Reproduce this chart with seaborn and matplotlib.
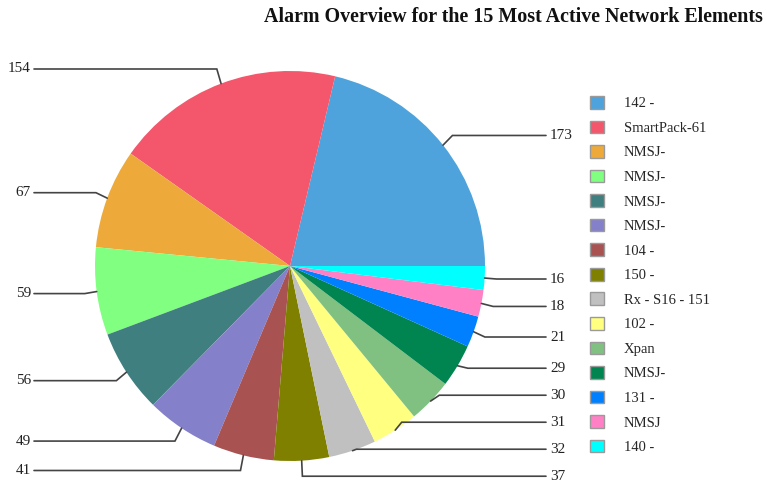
import numpy as np
import matplotlib
matplotlib.use("Agg")
import matplotlib.pyplot as plt
from matplotlib.patches import Rectangle
import seaborn as sns

# ---- data ----
labels = ["142 - ", "SmartPack-61", "NMSJ-", "NMSJ-", "NMSJ-", "NMSJ-", "104 - ",
          "150 - ", "Rx - S16 - 151", "102 - ", "Xpan", "NMSJ-", "131 - ", "NMSJ", "140 - "]
values = [173, 154, 67, 59, 56, 49, 41, 37, 32, 31, 30, 29, 21, 18, 16]
colors = ["#4FA3DC", "#F4566B", "#EDAA3A", "#80FF80", "#3F7F7F", "#8480C9", "#A85252",
          "#808000", "#C0C0C0", "#FFFF80", "#80C080", "#008450", "#0080FF", "#FF80C4", "#00FFFF"]
title = "Alarm Overview for the 15 Most Active Network Elements"

sns.set_theme(style="white")
plt.rcParams["font.family"] = ["Liberation Serif", "DejaVu Serif"]
palette = sns.color_palette(colors)

W, H = 767, 493
fig = plt.figure(figsize=(W / 100, H / 100), dpi=100)
ax = fig.add_axes([0, 0, 1, 1])

CX, CY, R = 290, 266, 195  # pixel geometry of the pie
wedges, _ = ax.pie(values, colors=palette, startangle=0, counterclock=True,
                   radius=1, center=(0, 0), wedgeprops=dict(linewidth=0))
ax.set_xlim(-CX / R, (W - CX) / R)
ax.set_ylim(-(H - CY) / R, CY / R)
ax.set_aspect("equal")
ax.axis("off")

# ---- value labels with leader lines ----
total = float(sum(values))
mids = []
acc = 0.0
for v in values:
    mids.append(np.deg2rad((acc + v / 2) / total * 360))
    acc += v

gap = 27 / R
ys = {i: 1.08 * np.sin(m) for i, m in enumerate(mids)}
right = [i for i, m in enumerate(mids) if np.cos(m) >= 0]
left = [i for i, m in enumerate(mids) if np.cos(m) < 0]
for side in (right, left):
    order = sorted(side, key=lambda i: ys[i])
    for k in range(1, len(order)):
        a, b = order[k - 1], order[k]
        if ys[b] < ys[a] + gap:
            ys[b] = ys[a] + gap

x_right_line = (546 - CX) / R
x_right_text = (550 - CX) / R
x_left_line = (34 - CX) / R
x_left_text = (31 - CX) / R
for i, m in enumerate(mids):
    ex, ey = np.cos(m), np.sin(m)
    bx = (1 + 12 / R) * np.cos(m)
    by = ys[i]
    if np.cos(m) >= 0:
        xs = [ex, bx, x_right_line]
        ax.text(x_right_text, by, str(values[i]), ha="left", va="center",
                fontsize=11, color="#222222")
    else:
        xs = [ex, bx, x_left_line]
        ax.text(x_left_text, by, str(values[i]), ha="right", va="center",
                fontsize=11, color="#222222")
    ax.plot(xs, [ey, by, by], color="#444444", lw=1.2, solid_joinstyle="miter")

# ---- title ----
fig.text(513 / W, 1 - 17 / H, title, ha="center", va="center",
         fontsize=14.4, fontweight="bold", color="#111111")

# ---- legend ----
handles = [Rectangle((0, 0), 1, 1, facecolor=c, edgecolor="#9a9a9a", linewidth=1)
           for c in palette]
fig.legend(handles, labels, loc="upper left", bbox_to_anchor=(590 / W, 1 - 96 / H),
           frameon=False, fontsize=10.5, handlelength=0.96, handleheight=0.96,
           handletextpad=1.35, labelspacing=0.70, borderpad=0, borderaxespad=0)

fig.savefig("out.png", dpi=100)
